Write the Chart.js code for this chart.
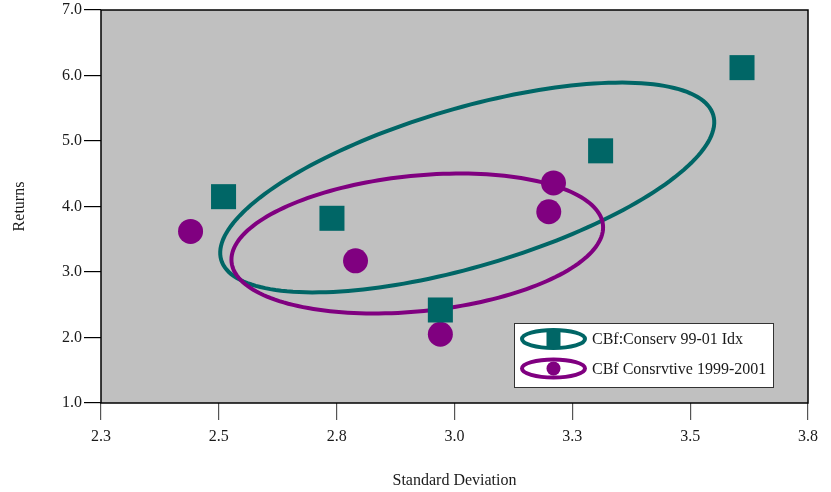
<!DOCTYPE html>
<html>
<head>
<meta charset="utf-8">
<script src="https://cdn.jsdelivr.net/npm/chart.js@4.4.0/dist/chart.umd.min.js"></script>
<style>
  html, body { margin: 0; padding: 0; background: #fff; }
</style>
</head>
<body>
<canvas id="riskChart" width="831" height="492"></canvas>
<script>
const indexLabel = "CBf:Conserv 99-01 Idx";
const fundLabel = "CBf Consrvtive 1999-2001";

// standard deviation / return pairs
const indexStdDev = [2.51, 2.74, 2.97, 3.31, 3.61];
const indexReturns = [4.15, 3.82, 2.42, 4.85, 6.12];
const fundStdDev = [2.44, 2.79, 2.97, 3.21, 3.20];
const fundReturns = [3.62, 3.17, 2.05, 4.36, 3.92];

// ellipse per series: centre x, centre y, then two semi-axis vectors (axis units)
const indexEllipse = [3.027, 4.290, 0.522, 1.105, 0.047, -1.159];
const fundEllipse = [2.921, 3.435, 0.394, 0.283, 0.014, -1.030];

const xTicks = [2.25, 2.5, 2.75, 3.0, 3.25, 3.5, 3.75];
const yTicks = [1, 2, 3, 4, 5, 6, 7];

const TEAL = "#006666";
const PURPLE = "#800080";
const SERIF = "'Liberation Serif', 'Times New Roman', serif";

Chart.defaults.font.family = SERIF;
Chart.defaults.font.size = 16;
Chart.defaults.color = "#1a1a1a";

const toPoints = (xs, ys) => xs.map((x, i) => ({ x: x, y: ys[i] }));

const plotBackground = {
    id: "plotBackground",
    beforeDatasetsDraw(chart) {
        const { ctx, chartArea: a } = chart;
        ctx.save();
        ctx.fillStyle = "#c0c0c0";
        ctx.fillRect(a.left, a.top, a.right - a.left, a.bottom - a.top);
        ctx.lineWidth = 1.5;
        ctx.strokeStyle = "#000";
        ctx.strokeRect(a.left, a.top, a.right - a.left, a.bottom - a.top);
        ctx.restore();
    }
};

// ellipses are traced in axis units and mapped through the scales
const ellipses = {
    id: "ellipses",
    beforeDatasetsDraw(chart) {
        const { ctx } = chart;
        const xs = chart.scales.x, ys = chart.scales.y;
        chart.data.datasets.forEach((ds) => {
            const e = ds.ellipse;
            ctx.save();
            ctx.beginPath();
            for (let i = 0; i <= 180; i++) {
                const t = (i / 180) * Math.PI * 2;
                const px = xs.getPixelForValue(e[0] + e[2] * Math.cos(t) + e[4] * Math.sin(t));
                const py = ys.getPixelForValue(e[1] + e[3] * Math.cos(t) + e[5] * Math.sin(t));
                if (i === 0) ctx.moveTo(px, py); else ctx.lineTo(px, py);
            }
            ctx.closePath();
            ctx.lineWidth = 4;
            ctx.strokeStyle = ds.backgroundColor;
            ctx.stroke();
            ctx.restore();
        });
    }
};

const legendBox = {
    id: "legendBox",
    afterDraw(chart) {
        const { ctx, chartArea: a } = chart;
        const w = 259, h = 64;
        const left = a.right - 35 - w, top = a.bottom - 16 - h;
        ctx.save();
        ctx.fillStyle = "#fff";
        ctx.fillRect(left, top, w, h);
        ctx.lineWidth = 1;
        ctx.strokeStyle = "#333";
        ctx.strokeRect(left + 0.5, top + 0.5, w, h);
        chart.data.datasets.forEach((ds, i) => {
            const cy = top + 16 + i * 29.5;
            const cx = left + 39.5;
            ctx.beginPath();
            ctx.ellipse(cx, cy, 31.5, 9, 0, 0, Math.PI * 2);
            ctx.lineWidth = 4;
            ctx.strokeStyle = ds.backgroundColor;
            ctx.stroke();
            ctx.fillStyle = ds.backgroundColor;
            if (ds.pointStyle === "rect") {
                ctx.fillRect(cx - 7, cy - 7.5, 14, 15);
            } else {
                ctx.beginPath();
                ctx.arc(cx, cy, 7, 0, Math.PI * 2);
                ctx.fill();
            }
            ctx.fillStyle = "#1a1a1a";
            ctx.font = "16px " + SERIF;
            ctx.textBaseline = "middle";
            ctx.textAlign = "left";
            ctx.fillText(ds.label, left + 78, cy + 1);
        });
        ctx.restore();
    }
};

new Chart(document.getElementById("riskChart"), {
    type: "scatter",
    data: {
        datasets: [
            {
                label: indexLabel,
                data: toPoints(indexStdDev, indexReturns),
                ellipse: indexEllipse,
                pointStyle: "rect",
                pointRadius: 17.7,
                borderWidth: 0,
                backgroundColor: TEAL,
                borderColor: TEAL
            },
            {
                label: fundLabel,
                data: toPoints(fundStdDev, fundReturns),
                ellipse: fundEllipse,
                pointStyle: "circle",
                pointRadius: 12.5,
                borderWidth: 0,
                backgroundColor: PURPLE,
                borderColor: PURPLE
            }
        ]
    },
    options: {
        responsive: false,
        animation: false,
        devicePixelRatio: 1,
        layout: { autoPadding: false, padding: { top: 10, right: 23, left: 0, bottom: 0 } },
        plugins: { legend: { display: false }, tooltip: { enabled: false } },
        scales: {
            x: {
                type: "linear",
                min: xTicks[0],
                max: xTicks[xTicks.length - 1],
                afterBuildTicks: (s) => { s.ticks = xTicks.map((v) => ({ value: v })); },
                afterFit: (s) => { s.height = 89; },
                border: { display: false },
                grid: { drawOnChartArea: false, tickLength: 17, color: "#555", lineWidth: 1.2 },
                ticks: { padding: 7, callback: (v) => v.toFixed(1) },
                title: { display: true, text: "Standard Deviation", padding: { top: 0, bottom: 2 } }
            },
            y: {
                type: "linear",
                min: yTicks[0],
                max: yTicks[yTicks.length - 1],
                afterBuildTicks: (s) => { s.ticks = yTicks.map((v) => ({ value: v })); },
                afterFit: (s) => { s.width = 101; s.paddingTop = 0; s.paddingBottom = 0; },
                border: { display: false },
                grid: { drawOnChartArea: false, tickLength: 17, color: "#000", lineWidth: 1.2 },
                ticks: { padding: 2, callback: (v) => v.toFixed(1) },
                title: { display: true, text: "Returns", padding: { top: 10, bottom: 0 } }
            }
        }
    },
    plugins: [plotBackground, ellipses, legendBox]
});
</script>
</body>
</html>
